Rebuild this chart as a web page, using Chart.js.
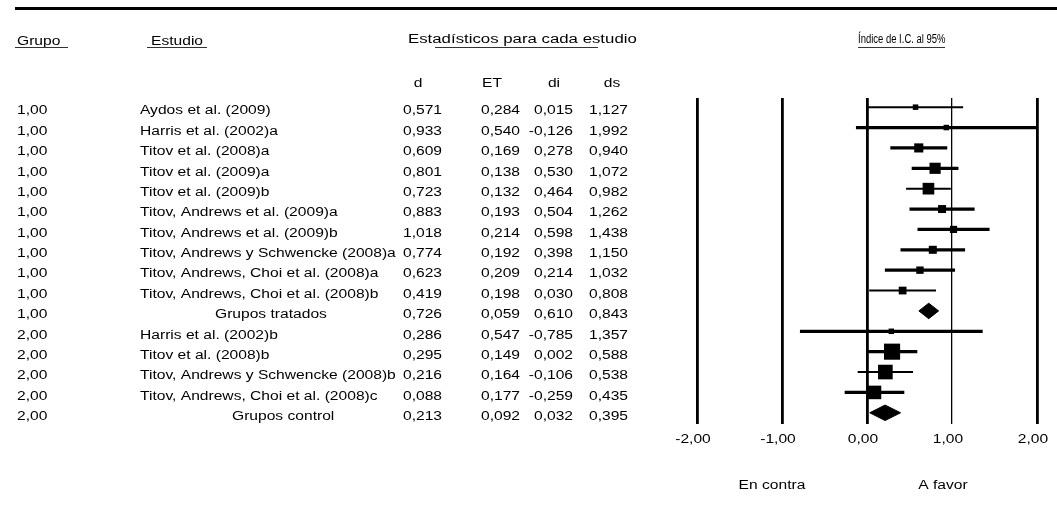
<!DOCTYPE html>
<html>
<head>
<meta charset="utf-8">
<script src="https://cdn.jsdelivr.net/npm/chart.js@4.4.1/dist/chart.umd.min.js"></script>
<style>
  html, body { margin: 0; padding: 0; background: #fff; }
  canvas { display: block; }
</style>
</head>
<body>
<canvas id="forest" width="1057" height="530"></canvas>
<script>
// Meta-análisis: estadísticos por estudio y resumen por grupo
const grupos = ['1,00','1,00','1,00','1,00','1,00','1,00','1,00','1,00','1,00','1,00','1,00',
                '2,00','2,00','2,00','2,00','2,00'];
const estudios = [
  'Aydos et al. (2009)',
  'Harris et al. (2002)a',
  'Titov et al. (2008)a',
  'Titov et al. (2009)a',
  'Titov et al. (2009)b',
  'Titov, Andrews et al. (2009)a',
  'Titov, Andrews et al. (2009)b',
  'Titov, Andrews y Schwencke (2008)a',
  'Titov, Andrews, Choi et al. (2008)a',
  'Titov, Andrews, Choi et al. (2008)b',
  'Grupos tratados',
  'Harris et al. (2002)b',
  'Titov et al. (2008)b',
  'Titov, Andrews y Schwencke (2008)b',
  'Titov, Andrews, Choi et al. (2008)c',
  'Grupos control'
];
const dVals  = [0.571, 0.933, 0.609, 0.801, 0.723, 0.883, 1.018, 0.774, 0.623, 0.419, 0.726, 0.286, 0.295, 0.216, 0.088, 0.213];
const etVals = [0.284, 0.540, 0.169, 0.138, 0.132, 0.193, 0.214, 0.192, 0.209, 0.198, 0.059, 0.547, 0.149, 0.164, 0.177, 0.092];
const diVals = [0.015, -0.126, 0.278, 0.530, 0.464, 0.504, 0.598, 0.398, 0.214, 0.030, 0.610, -0.785, 0.002, -0.106, -0.259, 0.032];
const dsVals = [1.127, 1.992, 0.940, 1.072, 0.982, 1.262, 1.438, 1.150, 1.032, 0.808, 0.843, 1.357, 0.588, 0.538, 0.435, 0.395];
const filasResumen = [10, 15];
const xTicks = [-2, -1, 0, 1, 2];

// Estilo de las líneas de intervalo (filas con trazo fino)
const ciFinos = [0, 4, 9, 13];

const filas = dVals.map((_, i) => i);
const filasEstudio = filas.filter(i => !filasResumen.includes(i));

// Peso relativo (inverso de la varianza) dentro de cada grupo -> tamaño del cuadrado
const totalGrupo = {};
filasEstudio.forEach(i => {
  const w = 1 / (etVals[i] * etVals[i]);
  totalGrupo[grupos[i]] = (totalGrupo[grupos[i]] || 0) + w;
});
function ladoCuadrado(i) {
  const pct = 100 * (1 / (etVals[i] * etVals[i])) / totalGrupo[grupos[i]];
  return Math.max(5.5, 2.6 * Math.sqrt(pct));
}

const fmt3 = v => v.toFixed(3).replace('.', ',');
const fmt2 = v => v.toFixed(2).replace('.', ',');

const FONT = '12px "Liberation Sans", Arial, sans-serif';
function txt(ctx, s, x, y, align, sx) {
  ctx.save();
  ctx.translate(x, y);
  ctx.scale(sx, 1);
  ctx.textAlign = align;
  ctx.textBaseline = 'middle';
  ctx.fillText(s, 0, 0);
  ctx.restore();
}
function hline(ctx, x1, x2, y, w) {
  ctx.beginPath();
  ctx.lineWidth = w;
  ctx.moveTo(x1, y);
  ctx.lineTo(x2, y);
  ctx.stroke();
}

// Tabla de la izquierda, cabeceras y rótulos del eje
const tablaPlugin = {
  id: 'tabla',
  afterDraw(chart) {
    const ctx = chart.ctx;
    const ys = chart.scales.y;
    const xs = chart.scales.x;
    ctx.save();
    ctx.fillStyle = '#000';
    ctx.strokeStyle = '#000';
    ctx.font = FONT;

    hline(ctx, 15, 1057, 8.5, 3);

    const SX = 1.3;
    txt(ctx, 'Grupo', 17, 42, 'left', SX);
    txt(ctx, 'Estudio', 151, 42, 'left', SX);
    txt(ctx, 'Estadísticos para cada estudio', 408, 40, 'left', 1.4);
    txt(ctx, 'Índice de I.C. al 95%', 858, 40, 'left', 0.79);
    ctx.strokeStyle = '#333';
    hline(ctx, 15, 68, 47.5, 1);
    hline(ctx, 147, 207, 47.5, 1);
    hline(ctx, 435, 598, 47.5, 1);
    hline(ctx, 858, 945, 47.5, 1);
    ctx.strokeStyle = '#000';

    txt(ctx, 'd', 418, 84, 'center', SX);
    txt(ctx, 'ET', 492, 84, 'center', SX);
    txt(ctx, 'di', 554, 84, 'center', SX);
    txt(ctx, 'ds', 612, 84, 'center', SX);

    filas.forEach(i => {
      const y = ys.getPixelForValue(i) + 4;
      txt(ctx, grupos[i], 17, y, 'left', SX);
      if (filasResumen.includes(i)) {
        txt(ctx, estudios[i], i === 10 ? 215 : 232, y, 'left', SX);
      } else {
        txt(ctx, estudios[i], 140, y, 'left', SX);
      }
      txt(ctx, fmt3(dVals[i]), 442, y, 'right', SX);
      txt(ctx, fmt3(etVals[i]), 520, y, 'right', SX);
      txt(ctx, fmt3(diVals[i]), 573, y, 'right', SX);
      txt(ctx, fmt3(dsVals[i]), 628, y, 'right', SX);
    });

    xTicks.forEach(v => {
      txt(ctx, fmt2(v), xs.getPixelForValue(v) - 4, 440, 'center', SX);
    });
    txt(ctx, 'En contra', 772, 486, 'center', SX);
    txt(ctx, 'A favor', 943, 486, 'center', SX);
    ctx.restore();
  }
};

const MEDIO_ROMBO = 0.38;
const rombos = filasResumen.map(r => ({
  type: 'line',
  data: [
    { x: diVals[r], y: r },
    { x: dVals[r], y: r - MEDIO_ROMBO },
    { x: dsVals[r], y: r },
    { x: dVals[r], y: r + MEDIO_ROMBO },
    { x: diVals[r], y: r }
  ],
  showLine: true,
  fill: 'shape',
  backgroundColor: '#000',
  borderColor: '#000',
  borderWidth: 1,
  pointRadius: 0,
  tension: 0,
  order: 0
}));

const barrasIC = (finas) => ({
  type: 'bar',
  indexAxis: 'y',
  grouped: false,
  data: filasEstudio.filter(i => ciFinos.includes(i) === finas)
                    .map(i => ({ y: i, x: [diVals[i], dsVals[i]] })),
  backgroundColor: '#000',
  borderWidth: 0,
  barThickness: finas ? 1.3 : 2.6,
  order: 2
});

new Chart(document.getElementById('forest'), {
  type: 'scatter',
  data: {
    datasets: [
      {
        type: 'scatter',
        data: filasEstudio.map(i => ({ x: dVals[i], y: i })),
        pointStyle: 'rect',
        pointRadius: c => ladoCuadrado(filasEstudio[c.dataIndex]) / Math.SQRT2,
        pointBackgroundColor: '#000',
        pointBorderWidth: 0,
        order: 0
      },
      ...rombos,
      barrasIC(false),
      barrasIC(true)
    ]
  },
  options: {
    responsive: false,
    animation: false,
    devicePixelRatio: 1,
    layout: { padding: { left: 697, right: 20, top: 98, bottom: 106 } },
    plugins: { legend: { display: false }, tooltip: { enabled: false } },
    scales: {
      x: {
        type: 'linear',
        min: -2,
        max: 2,
        offset: false,
        afterBuildTicks: s => { s.ticks = xTicks.map(v => ({ value: v })); },
        ticks: { display: false },
        border: { display: false },
        grid: {
          offset: false,
          drawTicks: false,
          color: '#000',
          lineWidth: c => (c.tick && c.tick.value === 1) ? 1.3 : 2.8
        }
      },
      y: {
        type: 'linear',
        min: -0.45,
        max: 15.55,
        reverse: true,
        offset: false,
        grid: { offset: false },
        display: false
      }
    }
  },
  plugins: [tablaPlugin]
});
</script>
</body>
</html>
